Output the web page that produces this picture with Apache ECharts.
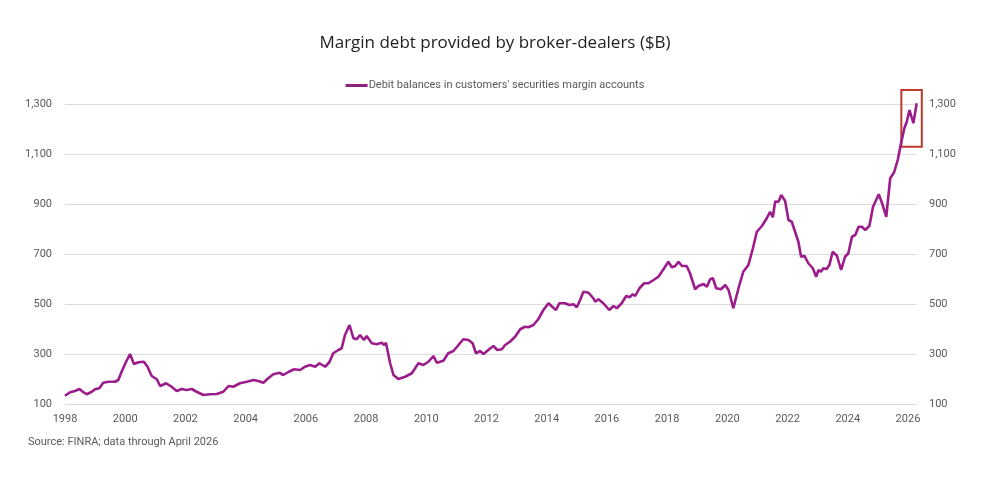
<!DOCTYPE html>
<html>
<head>
<meta charset="utf-8">
<script src="https://cdn.jsdelivr.net/npm/echarts@6/dist/echarts.min.js"></script>
<style>
  html, body { margin: 0; padding: 0; background: #fff; }
  #chart { width: 990px; height: 484px; }
</style>
</head>
<body>
<div id="chart"></div>
<script>
// monthly-ish readings, decimal year -> $B
var dates = [
  1998.00, 1998.17, 1998.33, 1998.48, 1998.59, 1998.72, 1998.89, 1999.00, 1999.14, 1999.27,
  1999.44, 1999.66, 1999.77, 1999.88, 2000.03, 2000.16, 2000.29, 2000.44, 2000.62, 2000.74,
  2000.88, 2001.05, 2001.16, 2001.36, 2001.54, 2001.71, 2001.88, 2002.04, 2002.21, 2002.37,
  2002.60, 2002.82, 2003.04, 2003.26, 2003.43, 2003.59, 2003.81, 2004.04, 2004.26, 2004.42,
  2004.59, 2004.75, 2004.92, 2005.12, 2005.25, 2005.42, 2005.61, 2005.81, 2005.97, 2006.14,
  2006.31, 2006.45, 2006.64, 2006.78, 2006.91, 2007.08, 2007.19, 2007.30, 2007.45, 2007.58,
  2007.69, 2007.80, 2007.93, 2008.02, 2008.19, 2008.35, 2008.52, 2008.60, 2008.66, 2008.80,
  2008.91, 2009.07, 2009.30, 2009.52, 2009.74, 2009.90, 2010.07, 2010.24, 2010.35, 2010.57,
  2010.73, 2010.90, 2011.07, 2011.23, 2011.40, 2011.54, 2011.65, 2011.79, 2011.90, 2012.06,
  2012.23, 2012.36, 2012.51, 2012.62, 2012.78, 2012.95, 2013.12, 2013.28, 2013.39, 2013.56,
  2013.72, 2013.89, 2014.06, 2014.20, 2014.31, 2014.42, 2014.61, 2014.75, 2014.89, 2015.00,
  2015.11, 2015.22, 2015.39, 2015.55, 2015.61, 2015.72, 2015.88, 2016.08, 2016.22, 2016.33,
  2016.49, 2016.64, 2016.75, 2016.86, 2016.94, 2017.08, 2017.24, 2017.38, 2017.55, 2017.71,
  2017.88, 2018.04, 2018.16, 2018.27, 2018.38, 2018.49, 2018.65, 2018.76, 2018.93, 2019.04,
  2019.21, 2019.32, 2019.43, 2019.52, 2019.63, 2019.79, 2019.93, 2020.04, 2020.20, 2020.37,
  2020.53, 2020.70, 2020.85, 2020.98, 2021.15, 2021.31, 2021.42, 2021.51, 2021.59, 2021.70,
  2021.79, 2021.92, 2022.03, 2022.14, 2022.25, 2022.36, 2022.45, 2022.56, 2022.69, 2022.84,
  2022.95, 2023.03, 2023.11, 2023.19, 2023.30, 2023.39, 2023.50, 2023.64, 2023.78, 2023.91,
  2024.02, 2024.14, 2024.25, 2024.36, 2024.47, 2024.58, 2024.72, 2024.84, 2025.03, 2025.14,
  2025.28, 2025.41, 2025.54, 2025.66, 2025.77, 2025.88, 2025.96, 2026.05, 2026.18, 2026.29
]
var debitBalances = [
  133, 147, 152, 160, 149, 139, 149, 159, 163, 185,
  189, 189, 196, 229, 269, 300, 260, 267, 269, 249,
  212, 199, 172, 183, 169, 152, 160, 156, 160, 149,
  136, 139, 140, 149, 172, 169, 183, 189, 196, 192,
  185, 203, 219, 225, 216, 228, 239, 236, 249, 256,
  249, 263, 249, 267, 303, 316, 323, 376, 416, 363,
  359, 376, 356, 372, 343, 339, 345, 336, 345, 263,
  216, 200, 209, 223, 263, 256, 269, 292, 265, 273,
  303, 312, 336, 359, 356, 343, 303, 312, 300, 316,
  332, 316, 319, 336, 349, 369, 399, 409, 407, 416,
  439, 476, 503, 487, 476, 503, 503, 496, 499, 487,
  516, 549, 545, 523, 509, 519, 503, 476, 492, 483,
  503, 532, 527, 539, 532, 563, 583, 583, 596, 609,
  639, 669, 647, 652, 669, 652, 652, 623, 559, 572,
  580, 569, 599, 603, 563, 559, 576, 556, 483, 563,
  629, 656, 723, 789, 812, 843, 869, 847, 910, 909,
  936, 912, 836, 829, 789, 749, 689, 693, 663, 643,
  609, 636, 629, 643, 640, 656, 709, 693, 636, 689,
  703, 769, 776, 809, 809, 796, 813, 889, 939, 903,
  849, 1003, 1027, 1076, 1143, 1203, 1229, 1276, 1223, 1303
]
var seriesName = "Debit balances in customers' securities margin accounts"
// highlighted box round the latest readings: [year from, year to], [$B low, $B high]
var boxYears = [2025.78, 2026.46]
var boxValues = [1129, 1356]

var chartDom = document.getElementById('chart')
var myChart = echarts.init(chartDom)
var option

var lineData = dates.map(function (d, i) { return [d, debitBalances[i]] })

var fmtNum = function (v) { return v.toLocaleString('en-US') }
var axisFont = { color: '#595959', fontSize: 11, fontFamily: 'Roboto' }

option = {
  animation: false,
  backgroundColor: '#fff',
  title: {
    text: 'Margin debt provided by broker-dealers ($B)',
    left: 'center',
    top: 30,
    textStyle: { fontFamily: 'Open Sans', fontSize: 17, fontWeight: 'normal', color: '#222' }
  },
  legend: {
    data: [seriesName],
    top: 75,
    left: 'center',
    icon: 'rect',
    itemWidth: 22,
    itemHeight: 3,
    textStyle: { color: '#595959', fontSize: 11, fontFamily: 'Roboto', padding: [0, 0, 0, -4] }
  },
  grid: { left: 65, right: 73, top: 104, bottom: 80 },
  xAxis: {
    type: 'value',
    min: 1998,
    max: 2026.3,
    interval: 2,
    axisLine: { show: false },
    axisTick: { show: false },
    splitLine: { show: false },
    axisLabel: Object.assign({
      margin: 10,
      showMaxLabel: false,
      formatter: function (v) { return Number.isInteger(v) ? String(v) : '' }
    }, axisFont)
  },
  yAxis: [
    {
      type: 'value',
      min: 100,
      max: 1300,
      interval: 200,
      axisLine: { show: false },
      axisTick: { show: false },
      splitLine: { lineStyle: { color: '#dcdcdc', width: 1 } },
      axisLabel: Object.assign({ margin: 13, formatter: fmtNum }, axisFont)
    },
    {
      type: 'value',
      position: 'right',
      min: 100,
      max: 1300,
      interval: 200,
      axisLine: { show: false },
      axisTick: { show: false },
      splitLine: { show: false },
      axisLabel: Object.assign({ margin: 12, formatter: fmtNum }, axisFont)
    }
  ],
  series: [
    {
      name: seriesName,
      type: 'line',
      data: lineData,
      symbol: 'none',
      clip: false,
      lineStyle: { color: '#9c1c8b', width: 2.6 },
      itemStyle: { color: '#8e1f7e' }
    },
    {
      name: 'box',
      type: 'custom',
      clip: false,
      silent: true,
      z: 3,
      encode: { x: 0, y: 1 },
      data: [[boxYears[0], boxValues[1], boxYears[1], boxValues[0]]],
      renderItem: function (params, api) {
        var p0 = api.coord([api.value(0), api.value(1)])
        var p1 = api.coord([api.value(2), api.value(3)])
        return {
          type: 'rect',
          shape: { x: p0[0], y: p0[1], width: p1[0] - p0[0], height: p1[1] - p0[1] },
          style: { fill: 'none', stroke: '#c0392b', lineWidth: 2 }
        }
      }
    }
  ],
  graphic: [
    {
      type: 'text',
      left: 28,
      top: 437,
      style: {
        text: 'Source: FINRA; data through April 2026',
        fill: '#595959',
        fontSize: 11,
        fontFamily: 'Roboto'
      }
    }
  ]
}

option && myChart.setOption(option)
</script>
</body>
</html>
